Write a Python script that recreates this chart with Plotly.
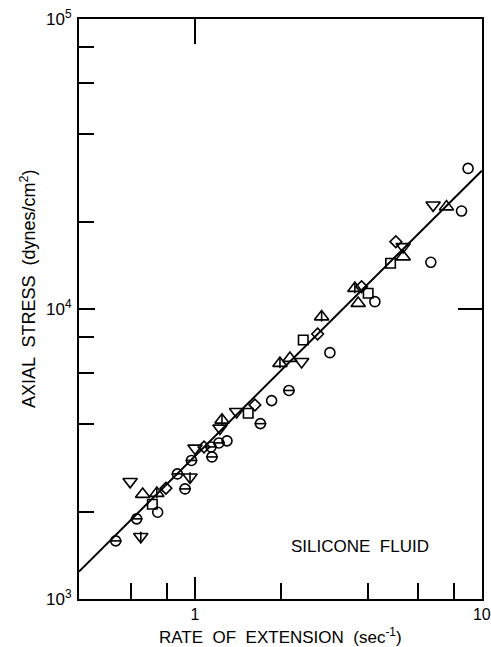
import plotly.graph_objects as go

# Rate of extension (1/s) and axial stress (dynes/cm^2), grouped by marker type
circle_x = [0.741, 1.293, 1.850, 2.954, 4.239, 6.643, 8.500, 8.960]
circle_y = [1990, 3507, 4830, 7069, 10600, 14490, 21770, 30550]

barcircle_x = [0.529, 0.626, 0.868, 0.923, 0.972, 1.137, 1.212, 1.146, 1.691, 2.126]
barcircle_y = [1585, 1888, 2698, 2395, 3003, 3343, 3451, 3088, 4022, 5236]

tri_up_x = [0.657, 2.143, 3.707, 7.534, 5.319]
tri_up_y = [2296, 6761, 10464, 22530, 15150]

bartri_up_x = [0.736, 1.242, 1.978, 2.764, 3.610]
bartri_up_y = [2314, 4142, 6498, 9406, 11790]

tri_down_x = [0.594, 1.000, 1.222, 1.397, 2.354, 6.767, 5.319]
tri_down_y = [2538, 3309, 3878, 4424, 6580, 22830, 16400]

bartri_down_x = [0.647, 0.961]
bartri_down_y = [1640, 2629]

square_x = [0.710, 1.533, 2.385, 4.017, 4.808]
square_y = [2121, 4368, 7818, 11330, 14380]

diamond_x = [0.792, 1.075, 1.618, 2.677, 3.809, 5.015]
diamond_y = [2409, 3343, 4667, 8200, 11940, 17070]

# Fitted power-law line
fit_x = [0.394, 10.0]
fit_y = [1242, 30000]

BLACK = "black"
FONT = "Liberation Sans"
X_LOG_RANGE = [-0.4045, 1.0008]
Y_LOG_RANGE = [2.9995, 5.0005]

fig = go.Figure()

fig.add_trace(go.Scatter(x=fit_x, y=fit_y, mode="lines",
                         line=dict(color=BLACK, width=2), showlegend=False))


def add_markers(xs, ys, symbol, size, width=1.6):
    fig.add_trace(go.Scatter(
        x=xs, y=ys, mode="markers", showlegend=False,
        marker=dict(symbol=symbol, size=size, color=BLACK,
                    line=dict(color=BLACK, width=width))))


add_markers(circle_x, circle_y, "circle-open", 10)
add_markers(barcircle_x, barcircle_y, "circle-open", 10)
add_markers(barcircle_x, barcircle_y, "line-ew-open", 8.5)
add_markers(tri_up_x, tri_up_y, "triangle-up-open", 12.5)
add_markers(bartri_up_x, bartri_up_y, "triangle-up-open", 12.5)
add_markers(bartri_up_x, bartri_up_y, "line-ns-open", 7)
add_markers(tri_down_x, tri_down_y, "triangle-down-open", 12.5)
add_markers(bartri_down_x, bartri_down_y, "triangle-down-open", 12.5)
add_markers(bartri_down_x, bartri_down_y, "line-ns-open", 7)
add_markers(square_x, square_y, "square-open", 9.5)
add_markers(diamond_x, diamond_y, "diamond-open", 9)

axis_font = dict(family=FONT, size=17, color=BLACK)

fig.update_xaxes(
    type="log", range=X_LOG_RANGE, automargin=False,
    showline=True, linecolor=BLACK, linewidth=2, mirror=True,
    showgrid=False, zeroline=False,
    tickmode="array", tickvals=[1, 10], ticktext=["1", "10"],
    ticks="inside", ticklen=22, tickwidth=1.5, tickcolor=BLACK,
    tickfont=dict(family=FONT, size=16, color=BLACK), ticklabelstandoff=0,
    minor=dict(tickmode="array", tickvals=[0.6, 0.8, 2, 4, 6, 8],
               ticks="inside", ticklen=16, tickwidth=1.5, tickcolor=BLACK,
               showgrid=False),
)

fig.update_yaxes(
    type="log", range=Y_LOG_RANGE, automargin=False,
    showline=True, linecolor=BLACK, linewidth=2, mirror=True,
    showgrid=False, zeroline=False,
    tickmode="array", tickvals=[1e3, 1e4, 1e5],
    ticktext=["10<sup>3</sup>", "10<sup>4</sup>", "10<sup>5</sup>"],
    ticks="inside", ticklen=16, tickwidth=1.5, tickcolor=BLACK,
    tickfont=axis_font, ticklabelstandoff=2,
    minor=dict(tickmode="array",
               tickvals=[2e3, 4e3, 6e3, 8e3, 2e4, 4e4, 6e4, 8e4],
               ticks="inside", ticklen=15, tickwidth=1.5, tickcolor=BLACK,
               showgrid=False),
)

# Mirrored major ticks on the top and right frame edges
fig.update_layout(
    xaxis2=dict(type="log", range=X_LOG_RANGE, overlaying="x", side="top",
                automargin=False,
                tickmode="array", tickvals=[1], showticklabels=False,
                ticks="inside", ticklen=25, tickwidth=1.5, tickcolor=BLACK,
                showgrid=False, zeroline=False, showline=False),
    yaxis2=dict(type="log", range=Y_LOG_RANGE, overlaying="y", side="right",
                automargin=False,
                tickmode="array", tickvals=[1e4], showticklabels=False,
                ticks="inside", ticklen=24, tickwidth=1.5, tickcolor=BLACK,
                showgrid=False, zeroline=False, showline=False),
)
fig.add_trace(go.Scatter(x=fit_x, y=fit_y, xaxis="x2", yaxis="y2",
                         mode="lines", line=dict(width=0), hoverinfo="skip",
                         showlegend=False))

# Axis titles
fig.add_annotation(text="RATE  OF  EXTENSION  (sec<sup>-1</sup>)",
                   xref="paper", yref="paper", x=0.5, y=-0.064,
                   xanchor="center", yanchor="middle", showarrow=False,
                   font=dict(family=FONT, size=17, color=BLACK))
fig.add_annotation(text="AXIAL  STRESS  (dynes/cm<sup>2</sup>)",
                   xref="paper", yref="paper", x=-0.126, y=0.535,
                   xanchor="center", yanchor="middle", textangle=-90,
                   showarrow=False,
                   font=dict(family=FONT, size=18, color=BLACK))

fig.add_annotation(text="SILICONE  FLUID", xref="paper", yref="paper",
                   x=0.697, y=0.091, xanchor="center", yanchor="middle",
                   showarrow=False,
                   font=dict(family=FONT, size=17, color=BLACK))

fig.update_layout(
    width=491, height=647,
    margin=dict(l=79, r=9, t=19, b=48),
    paper_bgcolor="white", plot_bgcolor="white",
    font=dict(family=FONT, color=BLACK),
)

fig.write_html("out.html")
